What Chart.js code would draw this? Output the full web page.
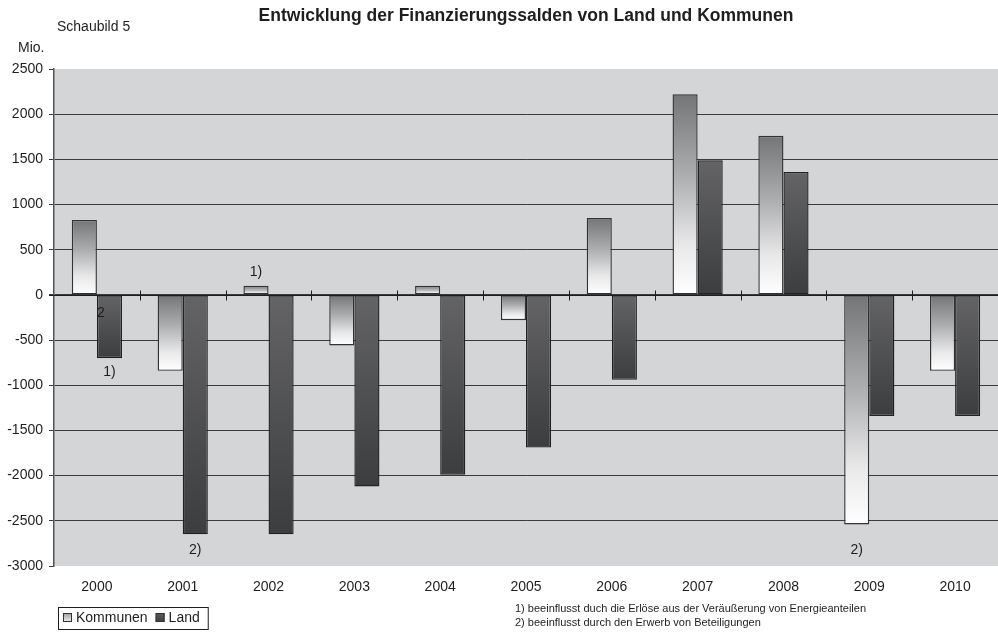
<!DOCTYPE html>
<html>
<head>
<meta charset="utf-8">
<script src="https://cdn.jsdelivr.net/npm/chart.js@4"></script>
<style>
html,body{margin:0;padding:0;background:#fff;}
#wrap{width:998px;height:635px;position:relative;}
</style>
</head>
<body>
<div id="wrap"><canvas id="c" width="998" height="635"></canvas></div>
<script>
const years = ['2000','2001','2002','2003','2004','2005','2006','2007','2008','2009','2010'];
const kommunen = [830, -840, 100, -560, 100, -280, 850, 2220, 1760, -2540, -840];
const land = [-700, -2650, -2650, -2120, -1990, -1690, -940, 1490, 1360, -1340, -1340];
const seriesNames = ['Kommunen', 'Land'];
const yMin = -3000, yMax = 2500, yStep = 500;

// footnote markers placed on bars: year, series index, y value (data units), text
const noteTexts = ['2', '1)', '2)', '1)', '2)'];
const noteYears = ['2000', '2000', '2001', '2002', '2009'];
const noteSeries = [1, 1, 1, 0, 0];
const noteValues = [-200, -860, -2820, 250, -2820];

const titleText = 'Entwicklung der Finanzierungssalden von Land und Kommunen';
const subText = 'Schaubild 5';
const unitText = 'Mio.';
const footnotes = ['1) beeinflusst duch die Erlöse aus der Veräußerung von Energieanteilen',
                   '2) beeinflusst durch den Erwerb von Beteiligungen'];

const FONT = "'Liberation Sans', Arial, sans-serif";
const kStops = [[0,'#747577'],[0.4,'#acadaf'],[0.75,'#e8e8e9'],[1,'#ffffff']];
const lStops = [[0,'#646466'],[1,'#3c3d3f']];

function barGradient(context, stops) {
  const chart = context.chart;
  const area = chart.chartArea;
  if (!area || context.raw === undefined) return stops[0][1];
  const ys = chart.scales.y;
  const p1 = ys.getPixelForValue(context.raw), p0 = ys.getPixelForValue(0);
  const top = Math.min(p0, p1), bot = Math.max(p0, p1) + 0.01;
  const g = chart.ctx.createLinearGradient(0, top, 0, bot);
  stops.forEach(s => g.addColorStop(s[0], s[1]));
  return g;
}

const decor = {
  id: 'decor',
  beforeDraw(chart) {
    const {ctx, chartArea: a} = chart;
    ctx.save();
    ctx.fillStyle = '#d4d5d7';
    ctx.fillRect(a.left, a.top, a.right - a.left, a.bottom - a.top);
    ctx.restore();
  },
  afterDatasetsDraw(chart) {
    const {ctx, chartArea: a, scales} = chart;
    const xs = scales.x, ys = scales.y;
    const y0 = Math.round(ys.getPixelForValue(0)) + 0.5;
    ctx.save();
    ctx.strokeStyle = '#1e1e1e';
    ctx.lineWidth = 1;
    ctx.beginPath();
    ctx.moveTo(a.left - 5, y0); ctx.lineTo(a.right, y0);
    for (let i = 1; i < years.length; i++) {
      const bx = Math.round((xs.getPixelForValue(i - 1) + xs.getPixelForValue(i)) / 2) + 0.5;
      ctx.moveTo(bx, y0 - 5); ctx.lineTo(bx, y0 + 5);
    }
    ctx.stroke();
    // notes on bars
    ctx.fillStyle = '#1e1e1e';
    ctx.font = '14px ' + FONT;
    ctx.textBaseline = 'middle';
    for (let i = 0; i < noteTexts.length; i++) {
      const idx = years.indexOf(noteYears[i]);
      const el = chart.getDatasetMeta(noteSeries[i]).data[idx];
      const y = ys.getPixelForValue(noteValues[i]);
      if (noteTexts[i] === '2') {
        ctx.textAlign = 'left';
        ctx.fillText(noteTexts[i], el.x - el.width / 2, y);
      } else {
        ctx.textAlign = 'center';
        ctx.fillText(noteTexts[i], el.x, y);
      }
    }
    ctx.restore();
  },
  afterDraw(chart) {
    const {ctx, chartArea: a} = chart;
    ctx.save();
    ctx.fillStyle = '#1e1e1e';
    ctx.textBaseline = 'middle';
    ctx.font = 'bold 17.5px ' + FONT;
    ctx.textAlign = 'center';
    ctx.fillText(titleText, (a.left + a.right) / 2, 16);
    ctx.font = '14px ' + FONT;
    ctx.textAlign = 'left';
    ctx.fillText(subText, 57, 27);
    ctx.fillText(unitText, 18, 48);
    // footnotes
    ctx.font = '11px ' + FONT;
    ctx.fillText(footnotes[0], 515, 609);
    ctx.fillText(footnotes[1], 515, 623);
    // legend
    ctx.font = '14px ' + FONT;
    const lx = 58, ly = 607, lh = 22;
    const w1 = ctx.measureText(seriesNames[0]).width, w2 = ctx.measureText(seriesNames[1]).width;
    const lw = 5 + 10 + 3 + w1 + 8 + 10 + 3 + w2 + 8;
    ctx.strokeStyle = '#1e1e1e';
    ctx.lineWidth = 1;
    ctx.strokeRect(lx + 0.5, ly + 0.5, lw, lh);
    let x = lx + 5;
    const sq = (stops) => {
      const g = ctx.createLinearGradient(0, ly + 6, 0, ly + 15);
      stops.forEach(s => g.addColorStop(s[0], s[1]));
      ctx.fillStyle = g;
      ctx.fillRect(x, ly + 6, 9, 9);
      ctx.strokeStyle = '#333';
      ctx.strokeRect(x + 0.5, ly + 6.5, 8, 8);
    };
    sq([[0,'#9a9a9c'],[1,'#f4f4f4']]);
    x += 13;
    ctx.fillStyle = '#1e1e1e';
    ctx.fillText(seriesNames[0], x, ly + 11.5);
    x += w1 + 8;
    sq([[0,'#5a5a5c'],[1,'#3e3f41']]);
    x += 13;
    ctx.fillStyle = '#1e1e1e';
    ctx.fillText(seriesNames[1], x, ly + 11.5);
    ctx.restore();
  }
};

new Chart(document.getElementById('c'), {
  type: 'bar',
  data: {
    labels: years,
    datasets: [
      { label: seriesNames[0], data: kommunen,
        backgroundColor: ctx => barGradient(ctx, kStops),
        borderColor: '#333333', borderWidth: 1.4, borderSkipped: false,
        categoryPercentage: 0.585, barPercentage: 1 },
      { label: seriesNames[1], data: land,
        backgroundColor: ctx => barGradient(ctx, lStops),
        borderColor: '#222222', borderWidth: 1.4, borderSkipped: false,
        categoryPercentage: 0.585, barPercentage: 1 }
    ]
  },
  options: {
    responsive: false,
    devicePixelRatio: 1,
    animation: false,
    layout: { padding: { top: 69, left: 0, right: 0, bottom: 29 } },
    plugins: { legend: { display: false }, title: { display: false }, tooltip: { enabled: false } },
    scales: {
      x: {
        offset: true,
        grid: { display: false, drawTicks: false },
        border: { display: false },
        ticks: { color: '#1e1e1e', font: { family: FONT, size: 14 }, padding: 13, maxRotation: 0 },
        afterFit: s => { s.height = 40; }
      },
      y: {
        min: yMin, max: yMax,
        afterFit: s => { s.width = 54; },
        border: { display: true, color: '#555', width: 1.5 },
        grid: {
          color: c => (c.tick && (c.tick.value === yMax || c.tick.value === yMin)) ? 'rgba(0,0,0,0)' : '#3a3a3a',
          tickColor: '#3a3a3a', tickLength: 5, lineWidth: 1
        },
        ticks: { stepSize: yStep, color: '#1e1e1e', font: { family: FONT, size: 14 }, padding: 6,
                 callback: v => String(v) }
      }
    }
  },
  plugins: [decor]
});
</script>
</body>
</html>
